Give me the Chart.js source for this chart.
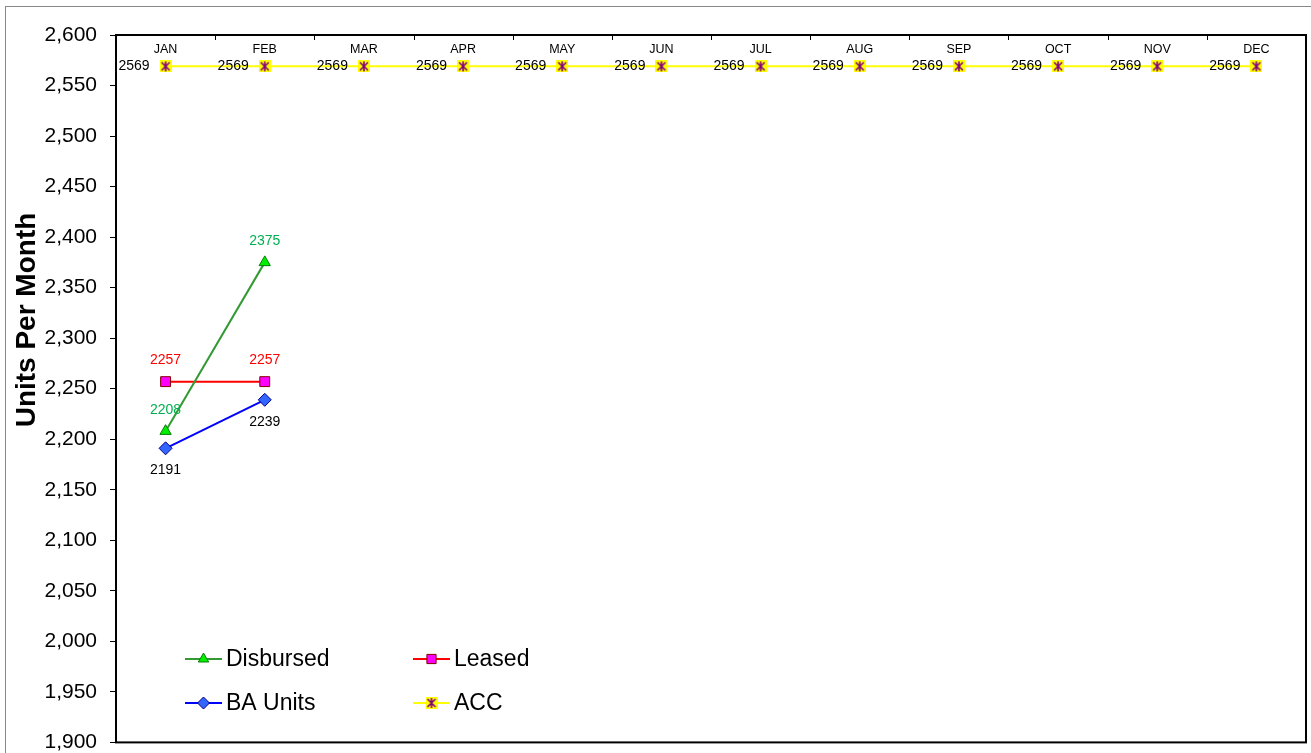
<!DOCTYPE html>
<html>
<head>
<meta charset="utf-8">
<script src="https://cdn.jsdelivr.net/npm/chart.js@4.4.1/dist/chart.umd.min.js"></script>
<style>
    html, body { margin: 0; background: #fff; overflow: hidden; }
    #wrap { position: relative; width: 1314px; height: 768px; }
</style>
</head>
<body>
<div id="wrap"><canvas id="unitsChart"></canvas></div>
<script>
// datos del grafico
const months = ['JAN', 'FEB', 'MAR', 'APR', 'MAY', 'JUN', 'JUL', 'AUG', 'SEP', 'OCT', 'NOV', 'DEC'];
const disbursed = [2208, 2375, null, null, null, null, null, null, null, null, null, null];
const leased = [2257, 2257, null, null, null, null, null, null, null, null, null, null];
const baUnits = [2191, 2239, null, null, null, null, null, null, null, null, null, null];
const acc = [2569, 2569, 2569, 2569, 2569, 2569, 2569, 2569, 2569, 2569, 2569, 2569];
const yMin = 1900, yMax = 2600, yStep = 50;

const FONT = '"Liberation Sans", Arial, sans-serif';

// marcador del ACC: cuadrado amarillo con asterisco violeta
function accMarker()
{
    const c = document.createElement('canvas');
    c.width = 12; c.height = 12;
    const g = c.getContext('2d');
    g.fillStyle = '#FFFF00';
    g.fillRect(0, 0, 12, 12);
    g.strokeStyle = '#800080';
    g.lineWidth = 1.6;
    g.beginPath();
    g.moveTo(2, 2); g.lineTo(10, 10);
    g.moveTo(10, 2); g.lineTo(2, 10);
    g.moveTo(6, 1); g.lineTo(6, 11);
    g.stroke();
    return c;
}
const accImg = accMarker();

// etiquetas de datos por serie
const labelCfg = [
    { color: '#00B050', dy: -21, dx: 0 },
    { color: '#FF0000', dy: -21, dx: 0 },
    { color: '#000000', dy: 22, dx: 0 },
    { color: '#000000', dy: 0, dx: -16 }
];

// formas para la leyenda (mismas que los puntos)
function drawShape(ctx, style, r, cx, cy)
{
    if (style === 'triangle')
    {
        ctx.moveTo(cx, cy - r);
        ctx.lineTo(cx + r * 0.866, cy + r * 0.5);
        ctx.lineTo(cx - r * 0.866, cy + r * 0.5);
        ctx.closePath();
    } else if (style === 'rect')
    {
        const s = r * Math.SQRT1_2;
        ctx.rect(cx - s, cy - s, 2 * s, 2 * s);
    } else if (style === 'rectRot')
    {
        ctx.moveTo(cx, cy - r);
        ctx.lineTo(cx + r, cy);
        ctx.lineTo(cx, cy + r);
        ctx.lineTo(cx - r, cy);
        ctx.closePath();
    }
}

const decorPlugin = {
    id: 'decor',
    beforeDraw: (chart) =>
    {
        const { ctx } = chart;
        ctx.save();
        ctx.fillStyle = '#fff';
        ctx.fillRect(0, 0, chart.width, chart.height);
        // borde exterior gris
        ctx.strokeStyle = '#888';
        ctx.lineWidth = 1;
        ctx.strokeRect(5.5, 6.5, chart.width + 10, chart.height + 40);
        ctx.restore();
    },
    afterDatasetsDraw: (chart) =>
    {
        const { ctx, chartArea, scales } = chart;
        ctx.save();

        // borde del area de trazado
        ctx.strokeStyle = '#000';
        ctx.lineWidth = 2;
        ctx.strokeRect(chartArea.left, chartArea.top, chartArea.right - chartArea.left, chartArea.bottom - chartArea.top);

        // marcas y meses del eje superior
        const x = scales.x;
        const half = (x.getPixelForValue(1) - x.getPixelForValue(0)) / 2;
        ctx.strokeStyle = '#000';
        ctx.lineWidth = 1;
        ctx.beginPath();
        for (let i = 1; i < months.length; i++)
        {
            const px = Math.round(x.getPixelForValue(i) - half) + 0.5;
            ctx.moveTo(px, chartArea.top);
            ctx.lineTo(px, chartArea.top + 5);
        }
        ctx.stroke();
        ctx.fillStyle = '#000';
        ctx.font = '12.5px ' + FONT;
        ctx.textAlign = 'center';
        ctx.textBaseline = 'middle';
        months.forEach((m, i) => ctx.fillText(m, x.getPixelForValue(i), chartArea.top + 15));

        // etiquetas de datos
        ctx.font = '14px ' + FONT;
        chart.data.datasets.forEach((ds, di) =>
        {
            const meta = chart.getDatasetMeta(di);
            const cfg = labelCfg[di];
            ctx.fillStyle = cfg.color;
            ctx.textAlign = cfg.dx < 0 ? 'right' : 'center';
            meta.data.forEach((pt, i) =>
            {
                const v = ds.data[i];
                if (v === null) return;
                ctx.fillText(String(v), pt.x + cfg.dx, pt.y + cfg.dy);
            });
        });

        // titulo del eje Y
        ctx.save();
        ctx.translate(27, 320);
        ctx.rotate(-Math.PI / 2);
        ctx.font = 'bold 28px ' + FONT;
        ctx.fillStyle = '#000';
        ctx.textAlign = 'center';
        ctx.textBaseline = 'middle';
        ctx.fillText('Units Per Month', 0, 0);
        ctx.restore();

        // leyenda dentro del grafico
        const items = [
            { ds: 0, x: 185, y: 659 },
            { ds: 1, x: 413, y: 659 },
            { ds: 2, x: 185, y: 703 },
            { ds: 3, x: 413, y: 703 }
        ];
        ctx.font = '23px ' + FONT;
        ctx.textAlign = 'left';
        ctx.textBaseline = 'middle';
        items.forEach(it =>
        {
            const ds = chart.data.datasets[it.ds];
            const cx = it.x + 18.5;
            ctx.strokeStyle = ds.borderColor;
            ctx.lineWidth = 2;
            ctx.beginPath();
            ctx.moveTo(it.x, it.y);
            ctx.lineTo(it.x + 37, it.y);
            ctx.stroke();
            if (typeof ds.pointStyle === 'string')
            {
                ctx.fillStyle = ds.pointBackgroundColor;
                ctx.strokeStyle = ds.pointBorderColor;
                ctx.lineWidth = 1;
                ctx.beginPath();
                drawShape(ctx, ds.pointStyle, ds.pointRadius - 0.5, cx, it.y);
                ctx.fill();
                ctx.stroke();
            } else
            {
                ctx.drawImage(ds.pointStyle, cx - 6, it.y - 6);
            }
            ctx.fillStyle = '#000';
            ctx.fillText(ds.label, it.x + 41, it.y + 1);
        });

        ctx.restore();
    }
};

new Chart(document.getElementById('unitsChart'), {
    type: 'line',
    data: {
        labels: months,
        datasets: [
            {
                label: 'Disbursed',
                data: disbursed,
                borderColor: '#339933',
                borderWidth: 2,
                pointStyle: 'triangle',
                pointRadius: 6.5,
                pointBackgroundColor: '#00EE00',
                pointBorderColor: '#008000',
                pointBorderWidth: 1
            },
            {
                label: 'Leased',
                data: leased,
                borderColor: '#FF0000',
                borderWidth: 2,
                pointStyle: 'rect',
                pointRadius: 7,
                pointBackgroundColor: '#FF00FF',
                pointBorderColor: '#800000',
                pointBorderWidth: 1
            },
            {
                label: 'BA Units',
                data: baUnits,
                borderColor: '#0000FF',
                borderWidth: 2,
                pointStyle: 'rectRot',
                pointRadius: 6.5,
                pointBackgroundColor: '#3366FF',
                pointBorderColor: '#000080',
                pointBorderWidth: 1
            },
            {
                label: 'ACC',
                data: acc,
                borderColor: '#FFFF00',
                borderWidth: 2,
                pointStyle: accImg,
                pointRadius: 6,
                pointBackgroundColor: '#FFFF00',
                pointBorderColor: '#800080'
            }
        ]
    },
    options: {
        responsive: true,
        maintainAspectRatio: false,
        animation: false,
        layout: { padding: { left: 0, top: 35, right: 1, bottom: -2 } },
        plugins: {
            legend: { display: false },
            tooltip: { enabled: false }
        },
        scales: {
            x: {
                type: 'category',
                offset: true,
                display: false
            },
            y: {
                min: yMin,
                max: yMax,
                afterFit: (scale) => { scale.width = 116; },
                ticks: {
                    stepSize: yStep,
                    padding: 13,
                    color: '#000',
                    font: { family: FONT, size: 21 },
                    callback: (v) => v.toLocaleString('en-US')
                },
                grid: {
                    drawOnChartArea: false,
                    drawTicks: true,
                    tickLength: 6,
                    color: '#000'
                },
                border: { display: true, color: '#000', width: 2 }
            }
        }
    },
    plugins: [decorPlugin]
});
</script>
</body>
</html>
